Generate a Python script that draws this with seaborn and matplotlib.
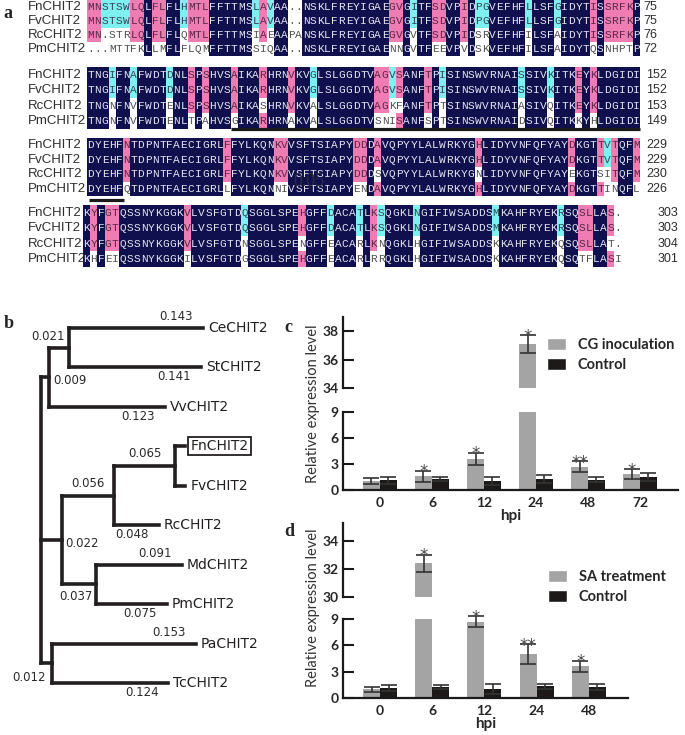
import matplotlib
matplotlib.use("Agg")
from collections import Counter
import numpy as np
import pandas as pd
import seaborn as sns
import matplotlib.pyplot as plt
from matplotlib.colors import ListedColormap
from matplotlib.patches import Patch
from matplotlib.transforms import blended_transform_factory

# ---------------- panel a : CHIT2 alignment ----------------
seq_names = ["FnCHIT2", "FvCHIT2", "RcCHIT2", "PmCHIT2"]
aln_block1 = [
    "MNSTSWLQLFLFLHMTLFFTTMSLAVAA..NSKLFREYIGAEGVGITFSDVPIDPGVEFHFLLSFGIDYTISSRFKP",
    "MNSTSWLQLFLFLHMTLFFTTMSLAVAA..NSKLFREYIGAEGVGITFSDVPIDPGVEFHFLLSFGIDYTISSRFKP",
    "MN.STRLQLFLFLQMTLFFTTMSIAEAAPANSKLFREYIGAEGVGVTFSDVPIDSRVEFHFILSFAIDYTISSRFKP",
    "...MTTFKLLMFLFLQMFFTTMSSIQAA..NSKLFREYIGAENNGVTFEEVPVDSKVEFHFILSFAIDYTQSNHPTP",
]
aln_block2 = [
    "TNGIFNAFWDTDNLSPSHVSAIKARHRNVKVGLSLGGDTVAGVSANFTPISINSWVRNAISSIVKITKEYKLDGIDI",
    "TNGIFNAFWDTDNLSPSHVSAIKARHRNVKVGLSLGGDTVAGVSANFTPISINSWVRNAISSIVKITKEYKLDGIDI",
    "TNGNFNVFWDTENLSPSHVSAIKASHRNVKVALSLGGDTVAGKFANFTPTSINSWVRNAIASIVQITKEYKLDGIDI",
    "TNGNFNVFWDTENLTPAHVSGIKARHRNAKVALSLGGDTVSNISANFSPTSINSWVRNAIDSIVQITKKYHLDGIDI",
]
aln_block3 = [
    "DYEHFNTDPNTFAECIGRLFFYLKQNKVVSFTSIAPYDDDAVQPYYLALWRKYGHLIDYVNFQFYAYDKGTTVTQFM",
    "DYEHFNTDPNTFAECIGRLFFYLKQNKVVSFTSIAPYDDDAVQPYYLALWRKYGHLIDYVNFQFYAYDKGTTVTQFM",
    "DYEHFNTDPNTFAECIGRLFFYLKQNKVVSFTSIAPYDDDSVQPYYLALWRKYGNLIDYVNFQFYAYEKGTSITQFM",
    "DYEHFQTDPNTFAECIGRLLFYLKQNNIVSFTSIAPYENDAVQPYYLALWRKYGHLIDYVNFQFYAYDKGTTINQFL",
]
aln_block4 = [
    "KYFGTQSSNYKGGKVLVSFGTDQSGGLSPEHGFFDACATLKSQGKLNGIFIWSADDSMKAHFRYEKRSQSLLAS.",
    "KYFGTQSSNYKGGKVLVSFGTDQSGGLSPEHGFFDACATLKSQGKLNGIFIWSADDSMKAHFRYEKRSQSLLAS.",
    "KYFGTQSSNYKGGKVLVSFGTDNSGGLSPENGFFEACARLKNQGKLHGIFIWSADDSKKAHFRYEKQSQSLLAT.",
    "KHFEIQSSNYKGGKILVSFGTDGSGGLSPEHGFFEACARLRRQGKLHGIFIWSADDSKKAHFRYEKQSQTFLASI",
]
aln_ends = [[75, 75, 76, 72], [152, 152, 153, 149], [229, 229, 230, 226], [303, 303, 304, 301]]
motif_bars = [(1, 20, 77), (2, 0.3, 5.2)]  # block, first col, last col

# ---------------- panel b : neighbour-joining tree ----------------
# [name, branch length, children]
tree = ["root", 0.0, [
    ["CeStVv", 0.009, [
        ["CeSt", 0.021, [["CeCHIT2", 0.143, []], ["StCHIT2", 0.141, []]]],
        ["VvCHIT2", 0.123, []]]],
    ["Ros", 0.022, [
        ["FnFvRc", 0.056, [
            ["FnFv", 0.065, [["FnCHIT2", 0.011, []], ["FvCHIT2", 0.011, []]]],
            ["RcCHIT2", 0.048, []]]],
        ["MdPm", 0.037, [["MdCHIT2", 0.091, []], ["PmCHIT2", 0.075, []]]]]],
    ["PaTc", 0.012, [["PaCHIT2", 0.153, []], ["TcCHIT2", 0.124, []]]]]]
leaf_order = ["CeCHIT2", "StCHIT2", "VvCHIT2", "FnCHIT2", "FvCHIT2",
              "RcCHIT2", "MdCHIT2", "PmCHIT2", "PaCHIT2", "TcCHIT2"]
hidden_lengths = ["FnCHIT2", "FvCHIT2", "root"]

# ---------------- panel c / d : qRT-PCR ----------------
cg_hpi = ["0", "6", "12", "24", "48", "72"]
cg_treat = [1.05, 1.6, 3.6, 37.1, 2.7, 1.8]
cg_treat_err = [0.3, 0.65, 0.7, 0.6, 0.6, 0.57]
cg_ctrl = [1.1, 1.25, 1.0, 1.3, 1.2, 1.5]
cg_ctrl_err = [0.35, 0.2, 0.45, 0.45, 0.3, 0.45]
cg_stars = ["", "*", "*", "*", "**", "*"]

sa_hpi = ["0", "6", "12", "24", "48"]
sa_treat = [1.0, 32.4, 8.7, 5.0, 3.6]
sa_treat_err = [0.3, 0.6, 0.6, 1.1, 0.65]
sa_ctrl = [1.1, 1.25, 1.0, 1.35, 1.25]
sa_ctrl_err = [0.35, 0.25, 0.55, 0.3, 0.3]
sa_stars = ["", "*", "*", "**", "*"]

W, H = 685, 735
sns.set_style("white")
plt.rcParams["font.family"] = ["Lato", "DejaVu Sans"]
fig = plt.figure(figsize=(W / 100, H / 100), dpi=100)


def add_ax(x0, y0, x1, y1):
    return fig.add_axes([x0 / W, 1 - y1 / H, (x1 - x0) / W, (y1 - y0) / H])


def pt(px):
    return px * 0.72


# ---------- a ----------
def conservation(block):
    lev = np.zeros((len(block), len(block[0])), int)
    for c in range(len(block[0])):
        col = [s[c] for s in block]
        res = [r for r in col if r != "."]
        if not res:
            continue
        top, n = Counter(res).most_common(1)[0]
        if n < 2:
            continue
        for r, ch in enumerate(col):
            if ch == top:
                lev[r, c] = {4: 3, 3: 2, 2: 1}[n]
    return lev


cell_cmap = ListedColormap(["#ffffff", "#7ff0f0", "#f07cb4", "#10104e"])
letter_cols = ["#505050", "#34465a", "#5a2848", "#e4e4f0"]
col_w = 7.18
block_x = [87, 87, 87, 83]
block_rows = [(0, 14.0), (67.3, 15.33), (137.7, 14.67), (205.3, 15.33)]
num_x = [0.5, 0.9, 0.9, 5.0]

for b, block in enumerate([aln_block1, aln_block2, aln_block3, aln_block4]):
    ncol = len(block[0])
    top, ch = block_rows[b]
    ax = add_ax(block_x[b], top, block_x[b] + ncol * col_w, top + 4 * ch)
    lev = conservation(block)
    letters = np.array([list(s) for s in block])
    sns.heatmap(lev, cmap=cell_cmap, vmin=-0.5, vmax=3.5, annot=letters, fmt="",
                cbar=False, linewidths=0, xticklabels=False, yticklabels=False,
                annot_kws={"fontsize": 8, "family": "Liberation Mono"}, ax=ax)
    for t, lv in zip(ax.texts, lev.flat):
        t.set_color(letter_cols[lv])
    name_tr = blended_transform_factory(fig.transFigure, ax.transData)
    for r, nm in enumerate(seq_names):
        ax.text(28 / W, r + 0.5, nm, transform=name_tr, ha="left", va="center",
                fontsize=9.5, family="Liberation Sans", color="#2e2e2e")
    for r, n in enumerate(aln_ends[b]):
        ax.text(ncol + num_x[b], r + 0.5, str(n), ha="left", va="center",
                fontsize=9, family="Liberation Sans", color="#2e2e2e")
    for mb, c0, c1 in motif_bars:
        if mb == b:
            yb = 4.05 if b == 1 else 4.25
            ax.plot([c0, c1], [yb, yb], color="#1a1a1a", lw=2.3,
                    solid_capstyle="butt", clip_on=False)
    if b == 2:
        ax.text(30.9, 2.96, "0.05", ha="center", va="center", fontsize=13,
                family="Liberation Serif", color="#2b2b3b")

# ---------- b ----------
axb = add_ax(0, 280, 300, 735)
axb.set_xlim(-41 / 937, 259 / 937)
axb.set_ylim(9 + 52 / 39.44, -48 / 39.44)
axb.axis("off")
tree_col = "#231f20"
bl_place = {"CeCHIT2": "above", "StCHIT2": "below", "VvCHIT2": "below",
            "CeSt": "upleft", "CeStVv": "right", "FnFv": "above_mid",
            "FnFvRc": "above_mid", "RcCHIT2": "below", "Ros": "right",
            "MdCHIT2": "above", "MdPm": "below_mid", "PmCHIT2": "below",
            "PaCHIT2": "above", "TcCHIT2": "below", "PaTc": "downleft"}


def draw_node(node, x0):
    name, bl, kids = node
    x1 = x0 + bl
    if kids:
        ys = [draw_node(k, x1) for k in kids]
        y = (ys[0] + ys[-1]) / 2
        axb.plot([x1, x1], [ys[0], ys[-1]], color=tree_col, lw=2.6,
                 solid_capstyle="projecting")
    else:
        y = leaf_order.index(name)
        box = None
        if name == "FnCHIT2":
            box = dict(boxstyle="square,pad=0.15", fc="white", ec=tree_col, lw=1.3)
        axb.annotate(name, (x1, y), xytext=(pt(5), 0), textcoords="offset points",
                     ha="left", va="center", fontsize=10, family="DejaVu Sans",
                     color=tree_col, bbox=box)
    if bl > 0:
        axb.plot([x0, x1], [y, y], color=tree_col, lw=2.6, solid_capstyle="projecting")
    if name not in hidden_lengths:
        place = bl_place[name]
        kw = dict(textcoords="offset points", fontsize=8.5, family="DejaVu Sans",
                  color="#2a2a2a")
        if place == "above":
            axb.annotate(f"{bl:.3f}", (x1, y), xytext=(pt(-10), pt(5)), ha="right", va="bottom", **kw)
        elif place == "below":
            axb.annotate(f"{bl:.3f}", (x1, y), xytext=(pt(-10), pt(-3)), ha="right", va="top", **kw)
        elif place == "upleft":
            axb.annotate(f"{bl:.3f}", (x1, y), xytext=(pt(-4), pt(5)), ha="right", va="bottom", **kw)
        elif place == "right":
            axb.annotate(f"{bl:.3f}", (x1, y), xytext=(pt(4), pt(-3)), ha="left", va="center", **kw)
        elif place == "above_mid":
            axb.annotate(f"{bl:.3f}", ((x0 + x1) / 2, y), xytext=(0, pt(6)), ha="center", va="bottom", **kw)
        elif place == "below_mid":
            axb.annotate(f"{bl:.3f}", ((x0 + x1) / 2, y), xytext=(pt(-3), pt(-6)), ha="center", va="top", **kw)
        elif place == "downleft":
            axb.annotate(f"{bl:.3f}", (x1, y), xytext=(pt(-6), pt(-8)), ha="right", va="top", **kw)
    return y


draw_node(tree, 0.0)

# ---------- c / d ----------
bar_gray, bar_black = "#a4a4a4", "#1d1919"


def bar_panel(ax_hi, ax_lo, hpi, treat, treat_err, ctrl, ctrl_err, stars, label, hi_lim, xmax):
    n = len(hpi)
    df = pd.DataFrame({"hpi": hpi * 2, "level": treat + ctrl,
                       "group": [label] * n + ["Control"] * n})
    errs = treat_err + ctrl_err
    for ax, lim in ((ax_hi, hi_lim), (ax_lo, (0, 9))):
        sns.barplot(data=df, x="hpi", y="level", hue="group",
                    palette={label: bar_gray, "Control": bar_black},
                    width=0.65, saturation=1, errorbar=None, legend=False,
                    linewidth=0, ax=ax)
        ax.set_ylim(*lim)
        ax.set_xlim(-0.71, xmax)
        is_low = ax is ax_lo
        for i, (p, e) in enumerate(zip(ax.patches, errs)):
            xc = p.get_x() + p.get_width() / 2
            h = p.get_height()
            # in the lower panel a bar that ends below the break keeps its whisker
            own = (h < lim[1]) if is_low else (h > lim[0])
            ax.errorbar(xc, h, yerr=e, color="#333333", lw=1.2, capsize=6,
                        capthick=1.2, clip_on=not own)
            if i < n and stars[i] and own:
                ax.annotate(stars[i], (xc, h + e), xytext=(0, -4.5), textcoords="offset points",
                            ha="center", va="baseline", fontsize=12, color="#4a4a4a",
                            family="DejaVu Sans", annotation_clip=False)
        ax.set_xlabel("")
        ax.set_ylabel("")
        for s in ("top", "right"):
            ax.spines[s].set_visible(False)
        for s in ("left", "bottom"):
            ax.spines[s].set_linewidth(1.6)
            ax.spines[s].set_color("#1a1a1a")
        ax.tick_params(axis="y", direction="in", length=8, width=1.5, pad=3,
                       labelsize=10, left=True, color="#1a1a1a")
    ax_hi.spines["bottom"].set_visible(False)
    ax_hi.set_xticks([])
    ax_hi.set_yticks(np.arange(hi_lim[0], hi_lim[1], 2))
    ax_lo.set_yticks([0, 3, 6, 9])
    for ax in (ax_hi, ax_lo):
        for t in ax.get_yticklabels():
            t.set_fontweight("bold")
    ax_lo.tick_params(axis="x", length=0, pad=5, labelsize=10)
    for t in ax_lo.get_xticklabels():
        t.set_fontweight("bold")
    ax_lo.set_xlabel("hpi", fontsize=11, fontweight="bold", labelpad=0)


c_hi = add_ax(343, 317, 678, 388)
c_lo = add_ax(343, 412, 678, 490)
bar_panel(c_hi, c_lo, cg_hpi, cg_treat, cg_treat_err, cg_ctrl, cg_ctrl_err, cg_stars,
          "CG inoculation", (34, 39), 5.73)
d_hi = add_ax(343, 523, 628, 597)
d_lo = add_ax(343, 619, 628, 698)
bar_panel(d_hi, d_lo, sa_hpi, sa_treat, sa_treat_err, sa_ctrl, sa_ctrl_err, sa_stars,
          "SA treatment", (30, 35.3), 4.75)

for yc in (404, 608):
    fig.text(313 / W, 1 - yc / H, "Relative expression level", rotation=90,
             ha="center", va="center", fontsize=10.5, color="#333333")

for lab, (lx, ly) in (("CG inoculation", (547, 338)), ("SA treatment", (548, 570))):
    fig.legend(handles=[Patch(fc=bar_gray), Patch(fc=bar_black)], labels=[lab, "Control"],
               loc="upper left", bbox_to_anchor=(lx / W, 1 - ly / H), frameon=False,
               prop={"weight": "bold", "size": 10.5}, handlelength=1.3, handleheight=0.85,
               handletextpad=0.8, labelspacing=0.4, borderpad=0, borderaxespad=0)

for letter, (lx, ly) in zip("abcd", [(7.5, 14), (8.5, 324), (288, 327), (289, 532)]):
    fig.text(lx / W, 1 - ly / H, letter, ha="center", va="center", fontsize=13,
             fontweight="bold", family="Liberation Serif")

fig.savefig("out.png", dpi=100)
